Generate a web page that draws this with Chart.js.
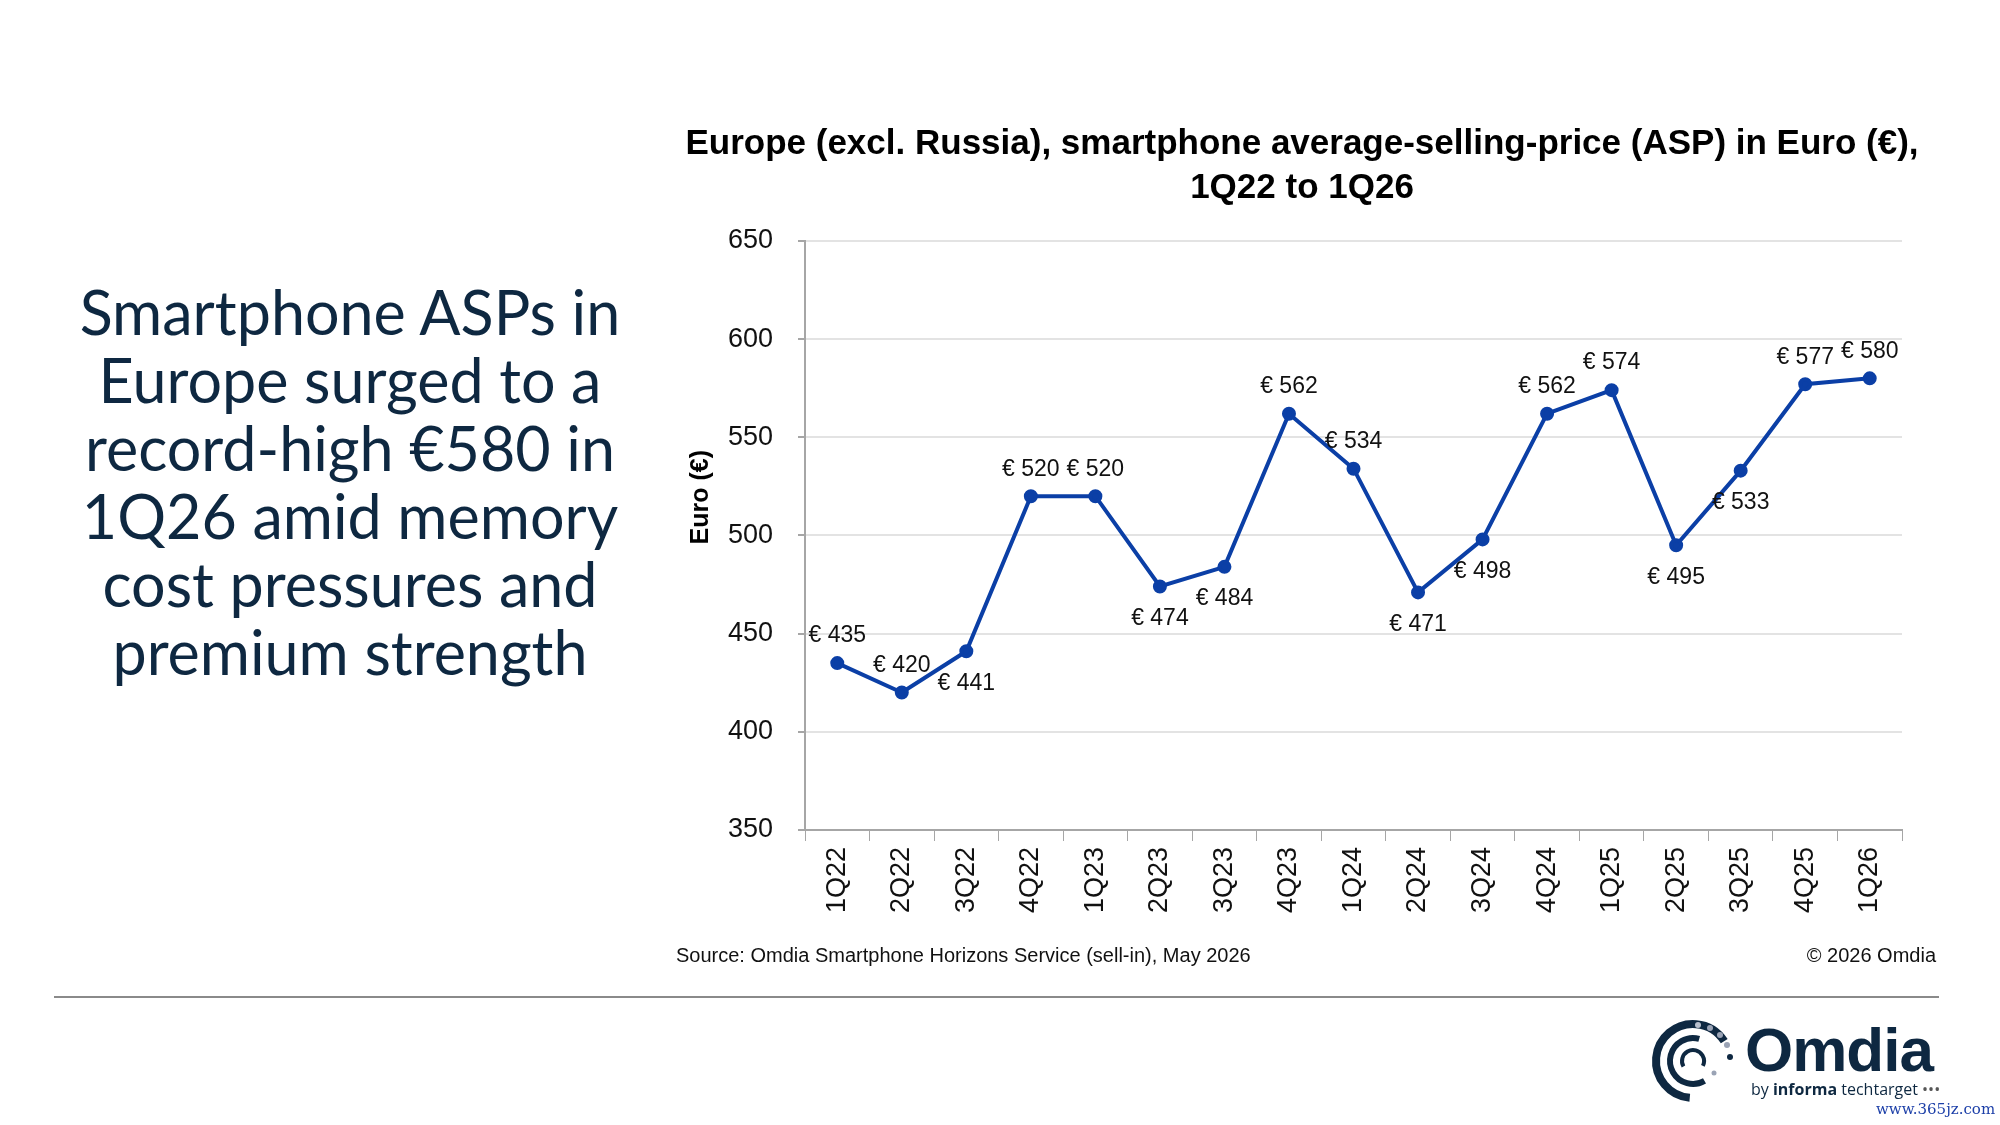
<!DOCTYPE html>
<html>
<head>
<meta charset="utf-8">
<script src="https://cdn.jsdelivr.net/npm/chart.js@4"></script>
<style>
  body { margin: 0; background: #fff; }
  #page { position: relative; width: 2000px; height: 1125px; overflow: hidden; background: #fff; }
  #chart { position: absolute; left: 0; top: 0; }
  #headline {
    position: absolute; left: 20px; width: 660px; top: 278px;
    font-family: Lato, "Noto Sans", sans-serif; font-size: 61px; line-height: 68px;
    color: #0e2841; text-align: center;
  }
  .foot { position: absolute; top: 944px; font-family: "Liberation Sans", Arial, sans-serif; font-size: 20px; color: #111; }
  #rule { position: absolute; left: 54px; width: 1885px; top: 996px; height: 2px; background: #8a8a8a; }
  #logo { position: absolute; left: 1650px; top: 1018px; }
  #logoName { position: absolute; left: 1745px; top: 1014px; font-family: "Liberation Sans", Arial, sans-serif; font-weight: bold; font-size: 62px; color: #0e2841; letter-spacing: -1px; }
  #logoBy { position: absolute; left: 1751px; top: 1078px; font-family: "Open Sans", sans-serif; font-size: 16px; color: #0e2841; }
  #wm { position: absolute; left: 1876px; top: 1100px; font-family: "DejaVu Serif", serif; font-size: 15px; color: #1c3fa8; }
</style>
</head>
<body>
<div id="page">
  <canvas id="chart" width="2000" height="1125"></canvas>
  <div id="headline">Smartphone ASPs in<br>Europe surged to a<br>record-high €580 in<br>1Q26 amid memory<br>cost pressures and<br>premium strength</div>
  <div class="foot" style="left:676px;">Source: Omdia Smartphone Horizons Service (sell-in), May 2026</div>
  <div class="foot" style="right:64px;">© 2026 Omdia</div>
  <div id="rule"></div>
  <svg id="logo" width="90" height="90" viewBox="0 0 90 90">
    <circle cx="43" cy="43" r="37" fill="none" stroke="#0e2841" stroke-width="8" stroke-dasharray="150 250" transform="rotate(95 43 43)"/>
    <circle cx="43" cy="43" r="23" fill="none" stroke="#0e2841" stroke-width="6" stroke-dasharray="90 200" transform="rotate(60 43 43)"/>
    <circle cx="43" cy="43" r="11" fill="none" stroke="#0e2841" stroke-width="4" stroke-dasharray="45 100" transform="rotate(150 43 43)"/>
    <circle cx="60" cy="10" r="3" fill="#9aa3b5"/><circle cx="70" cy="17" r="3" fill="#9aa3b5"/>
    <circle cx="77" cy="27" r="3" fill="#9aa3b5"/><circle cx="80" cy="39" r="3" fill="#0e2841"/>
    <circle cx="48" cy="7" r="3" fill="#b8bfcc"/><circle cx="64" cy="55" r="2.5" fill="#9aa3b5"/>
  </svg>
  <div id="logoName">Omdia</div>
  <div id="logoBy">by <b>informa</b> techtarget <span style="color:#555">•••</span></div>
  <div id="wm">www.365jz.com</div>
</div>
<script>
// Datos: ASP trimestral de smartphones en Europa (excl. Rusia), en euros
const quarters = ['1Q22', '2Q22', '3Q22', '4Q22', '1Q23', '2Q23', '3Q23', '4Q23', '1Q24',
  '2Q24', '3Q24', '4Q24', '1Q25', '2Q25', '3Q25', '4Q25', '1Q26'];
const aspEuro = [435, 420, 441, 520, 520, 474, 484, 562, 534, 471, 498, 562, 574, 495, 533, 577, 580];
const yTicks = [350, 400, 450, 500, 550, 600, 650];

// posición de cada etiqueta respecto a su punto
const labelSide = ['up', 'up', 'down', 'up', 'up', 'down', 'down', 'up', 'up',
  'down', 'down', 'up', 'up', 'down', 'down', 'up', 'up'];

const lineBlue = '#0b3fa6';

// etiquetas "€ 435" encima / debajo de cada punto
const valueLabels = {
  id: 'valueLabels',
  afterDatasetsDraw(chart) {
    const ctx = chart.ctx;
    const meta = chart.getDatasetMeta(0);
    ctx.save();
    ctx.font = '23px "Liberation Sans", Arial, sans-serif';
    ctx.fillStyle = '#111';
    ctx.textAlign = 'center';
    ctx.textBaseline = 'middle';
    meta.data.forEach((pt, i) => {
      const dy = labelSide[i] === 'up' ? -27 : 32;
      ctx.fillText('€ ' + aspEuro[i], pt.x, pt.y + dy);
    });
    ctx.restore();
  }
};

new Chart(document.getElementById('chart').getContext('2d'), {
  type: 'line',
  data: {
    labels: quarters,
    datasets: [{
      label: 'ASP',
      data: aspEuro,
      borderColor: lineBlue,
      backgroundColor: lineBlue,
      borderWidth: 4,
      pointRadius: 5,
      pointHoverRadius: 5,
      tension: 0,
    }]
  },
  options: {
    responsive: false,
    devicePixelRatio: 1,
    animation: false,
    layout: { padding: { left: 672, right: 68, top: 0, bottom: 195 } },
    plugins: {
      legend: { display: false },
      tooltip: { enabled: false },
      title: {
        display: true,
        text: ['Europe (excl. Russia), smartphone average-selling-price (ASP) in Euro (€),', '1Q22 to 1Q26'],
        color: '#000',
        font: { family: '"Liberation Sans", Arial, sans-serif', size: 35, weight: 'bold', lineHeight: 1.27 },
        padding: { top: 122, bottom: 30 },
      },
    },
    scales: {
      x: {
        offset: true,
        grid: { display: true, drawOnChartArea: false, drawTicks: true, tickLength: 11, color: '#a6a6a6', offset: true },
        border: { color: '#a6a6a6', width: 2 },
        ticks: {
          minRotation: 90, maxRotation: 90, padding: 6, color: '#111',
          font: { family: '"Liberation Sans", Arial, sans-serif', size: 27 },
        },
        afterFit(scale) { scale.height = 100; },
      },
      y: {
        min: 350, max: 650,
        afterBuildTicks(scale) { scale.ticks = yTicks.map(v => ({ value: v })); },
        grid: { color: '#e3e3e3', lineWidth: 2, tickLength: 7, tickColor: '#a6a6a6' },
        border: { color: '#a6a6a6', width: 2 },
        ticks: {
          padding: 25, color: '#111',
          font: { family: '"Liberation Sans", Arial, sans-serif', size: 27 },
        },
        title: {
          display: true, text: '           Euro (€)', color: '#000',
          font: { family: '"Liberation Sans", Arial, sans-serif', size: 25, weight: 'bold' },
          padding: { top: 14, bottom: 0 },
        },
        afterFit(scale) { scale.width = 133; },
      },
      // eje vacío a la derecha, sólo para dejar margen
      yRight: {
        position: 'right',
        display: true,
        grid: { display: false },
        border: { display: false },
        ticks: { display: false },
        afterFit(scale) { scale.width = 30; },
      }
    }
  },
  plugins: [valueLabels],
});
</script>
</body>
</html>
